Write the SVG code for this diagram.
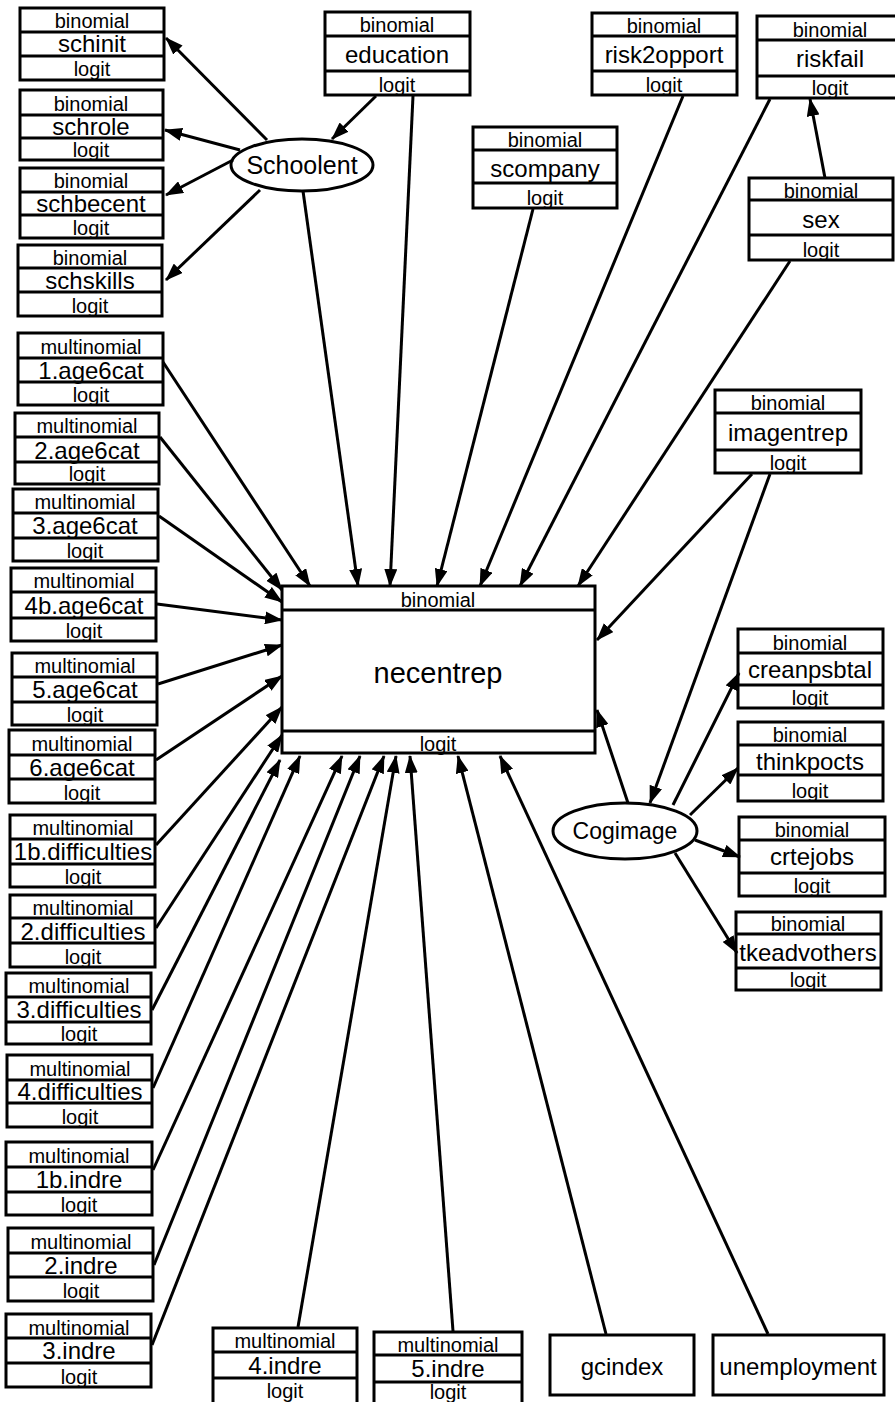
<svg xmlns="http://www.w3.org/2000/svg" width="895" height="1402" viewBox="0 0 895 1402">
<style>
rect,ellipse{fill:#fff;stroke:#000;stroke-width:3}
line.d{stroke:#000;stroke-width:3}
text{font-family:"Liberation Sans",Arial,sans-serif;fill:#000;text-anchor:middle}
.l{font-size:20px}
.n{font-size:24px}
.c{font-size:23px}
#edges line{stroke:#000;stroke-width:3;marker-end:url(#ah)}
</style>
<defs>
<marker id="ah" viewBox="0 0 18 13" refX="17" refY="6.5" markerWidth="18" markerHeight="13" markerUnits="userSpaceOnUse" orient="auto">
<path d="M0,0 L18,6.5 L0,13 z" fill="#000"/>
</marker>
</defs>
<rect x="0" y="0" width="895" height="1402" style="stroke:none"/>

<g id="n-schinit"><rect x="20" y="8" width="144" height="72"/><line class="d" x1="20" y1="32" x2="164" y2="32"/><line class="d" x1="20" y1="56" x2="164" y2="56"/><text class="l" x="92" y="28">binomial</text><text class="n" x="92" y="52">schinit</text><text class="l" x="92" y="76">logit</text></g>
<g id="n-schrole"><rect x="20" y="90" width="143" height="70"/><line class="d" x1="20" y1="115" x2="163" y2="115"/><line class="d" x1="20" y1="138" x2="163" y2="138"/><text class="l" x="91" y="111">binomial</text><text class="n" x="91" y="135">schrole</text><text class="l" x="91" y="157">logit</text></g>
<g id="n-schbecent"><rect x="20" y="168" width="143" height="70"/><line class="d" x1="20" y1="192" x2="163" y2="192"/><line class="d" x1="20" y1="215" x2="163" y2="215"/><text class="l" x="91" y="188">binomial</text><text class="n" x="91" y="212">schbecent</text><text class="l" x="91" y="235">logit</text></g>
<g id="n-schskills"><rect x="18" y="245" width="144" height="71"/><line class="d" x1="18" y1="268" x2="162" y2="268"/><line class="d" x1="18" y1="292" x2="162" y2="292"/><text class="l" x="90" y="265">binomial</text><text class="n" x="90" y="289">schskills</text><text class="l" x="90" y="313">logit</text></g>

<g id="n-schoolent"><ellipse cx="302" cy="165" rx="71" ry="26"/><text class="n" x="302" y="174" style="font-size:25px">Schoolent</text></g>

<g id="n-education"><rect x="325" y="12" width="145" height="83"/><line class="d" x1="325" y1="36" x2="470" y2="36"/><line class="d" x1="325" y1="71" x2="470" y2="71"/><text class="l" x="397" y="32">binomial</text><text class="n" x="397" y="63">education</text><text class="l" x="397" y="92">logit</text></g>
<g id="n-scompany"><rect x="473" y="127" width="144" height="81"/><line class="d" x1="473" y1="150" x2="617" y2="150"/><line class="d" x1="473" y1="183" x2="617" y2="183"/><text class="l" x="545" y="147">binomial</text><text class="n" x="545" y="177">scompany</text><text class="l" x="545" y="205">logit</text></g>
<g id="n-risk2opport"><rect x="592" y="13" width="145" height="82"/><line class="d" x1="592" y1="36" x2="737" y2="36"/><line class="d" x1="592" y1="71" x2="737" y2="71"/><text class="l" x="664" y="33">binomial</text><text class="n" x="664" y="63">risk2opport</text><text class="l" x="664" y="92">logit</text></g>
<g id="n-riskfail"><rect x="757" y="16" width="143" height="82"/><line class="d" x1="757" y1="40" x2="900" y2="40"/><line class="d" x1="757" y1="76" x2="900" y2="76"/><text class="l" x="830" y="37">binomial</text><text class="n" x="830" y="67">riskfail</text><text class="l" x="830" y="95">logit</text></g>
<g id="n-sex"><rect x="749" y="178" width="144" height="82"/><line class="d" x1="749" y1="200" x2="893" y2="200"/><line class="d" x1="749" y1="235" x2="893" y2="235"/><text class="l" x="821" y="198">binomial</text><text class="n" x="821" y="228">sex</text><text class="l" x="821" y="257">logit</text></g>
<g id="n-imagentrep"><rect x="715" y="390" width="146" height="83"/><line class="d" x1="715" y1="413" x2="861" y2="413"/><line class="d" x1="715" y1="450" x2="861" y2="450"/><text class="l" x="788" y="410">binomial</text><text class="n" x="788" y="441">imagentrep</text><text class="l" x="788" y="470">logit</text></g>

<g id="n-necentrep"><rect x="282" y="586" width="313" height="167"/><line class="d" x1="282" y1="610" x2="595" y2="610"/><line class="d" x1="282" y1="731" x2="595" y2="731"/><text class="l" x="438" y="607">binomial</text><text class="c" x="438" y="683" style="font-size:29px">necentrep</text><text class="l" x="438" y="751">logit</text></g>

<g id="n-creanpsbtal"><rect x="738" y="629" width="145" height="79"/><line class="d" x1="738" y1="653" x2="883" y2="653"/><line class="d" x1="738" y1="685" x2="883" y2="685"/><text class="l" x="810" y="650">binomial</text><text class="n" x="810" y="678">creanpsbtal</text><text class="l" x="810" y="705">logit</text></g>
<g id="n-thinkpocts"><rect x="738" y="722" width="145" height="79"/><line class="d" x1="738" y1="745" x2="883" y2="745"/><line class="d" x1="738" y1="775" x2="883" y2="775"/><text class="l" x="810" y="742">binomial</text><text class="n" x="810" y="770">thinkpocts</text><text class="l" x="810" y="798">logit</text></g>
<g id="n-crtejobs"><rect x="739" y="817" width="146" height="79"/><line class="d" x1="739" y1="840" x2="885" y2="840"/><line class="d" x1="739" y1="873" x2="885" y2="873"/><text class="l" x="812" y="837">binomial</text><text class="n" x="812" y="865">crtejobs</text><text class="l" x="812" y="893">logit</text></g>
<g id="n-tkeadvothers"><rect x="736" y="912" width="145" height="78"/><line class="d" x1="736" y1="934" x2="881" y2="934"/><line class="d" x1="736" y1="968" x2="881" y2="968"/><text class="l" x="808" y="931">binomial</text><text class="n" x="808" y="961">tkeadvothers</text><text class="l" x="808" y="987">logit</text></g>

<g id="n-cogimage"><ellipse cx="625" cy="831" rx="72" ry="28"/><text class="c" x="625" y="839">Cogimage</text></g>

<g id="n-1age6cat"><rect x="18" y="333" width="145" height="72"/><line class="d" x1="18" y1="358" x2="163" y2="358"/><line class="d" x1="18" y1="382" x2="163" y2="382"/><text class="l" x="91" y="354">multinomial</text><text class="n" x="91" y="379">1.age6cat</text><text class="l" x="91" y="402">logit</text></g>
<g id="n-2age6cat"><rect x="15" y="413" width="144" height="71"/><line class="d" x1="15" y1="437" x2="159" y2="437"/><line class="d" x1="15" y1="462" x2="159" y2="462"/><text class="l" x="87" y="433">multinomial</text><text class="n" x="87" y="459">2.age6cat</text><text class="l" x="87" y="481">logit</text></g>
<g id="n-3age6cat"><rect x="13" y="489" width="145" height="72"/><line class="d" x1="13" y1="513" x2="158" y2="513"/><line class="d" x1="13" y1="538" x2="158" y2="538"/><text class="l" x="85" y="509">multinomial</text><text class="n" x="85" y="534">3.age6cat</text><text class="l" x="85" y="558">logit</text></g>
<g id="n-4bage6cat"><rect x="11" y="568" width="145" height="73"/><line class="d" x1="11" y1="592" x2="156" y2="592"/><line class="d" x1="11" y1="618" x2="156" y2="618"/><text class="l" x="84" y="588">multinomial</text><text class="n" x="84" y="614">4b.age6cat</text><text class="l" x="84" y="638">logit</text></g>
<g id="n-5age6cat"><rect x="12" y="653" width="145" height="72"/><line class="d" x1="12" y1="677" x2="157" y2="677"/><line class="d" x1="12" y1="702" x2="157" y2="702"/><text class="l" x="85" y="673">multinomial</text><text class="n" x="85" y="698">5.age6cat</text><text class="l" x="85" y="722">logit</text></g>
<g id="n-6age6cat"><rect x="9" y="730" width="146" height="73"/><line class="d" x1="9" y1="755" x2="155" y2="755"/><line class="d" x1="9" y1="779" x2="155" y2="779"/><text class="l" x="82" y="751">multinomial</text><text class="n" x="82" y="776">6.age6cat</text><text class="l" x="82" y="800">logit</text></g>
<g id="n-1bdifficulties"><rect x="10" y="815" width="145" height="72"/><line class="d" x1="10" y1="839" x2="155" y2="839"/><line class="d" x1="10" y1="864" x2="155" y2="864"/><text class="l" x="83" y="835">multinomial</text><text class="n" x="83" y="860">1b.difficulties</text><text class="l" x="83" y="884">logit</text></g>
<g id="n-2difficulties"><rect x="10" y="895" width="145" height="72"/><line class="d" x1="10" y1="918" x2="155" y2="918"/><line class="d" x1="10" y1="943" x2="155" y2="943"/><text class="l" x="83" y="915">multinomial</text><text class="n" x="83" y="940">2.difficulties</text><text class="l" x="83" y="964">logit</text></g>
<g id="n-3difficulties"><rect x="6" y="973" width="145" height="71"/><line class="d" x1="6" y1="997" x2="151" y2="997"/><line class="d" x1="6" y1="1022" x2="151" y2="1022"/><text class="l" x="79" y="993">multinomial</text><text class="n" x="79" y="1018">3.difficulties</text><text class="l" x="79" y="1041">logit</text></g>
<g id="n-4difficulties"><rect x="7" y="1055" width="145" height="72"/><line class="d" x1="7" y1="1080" x2="152" y2="1080"/><line class="d" x1="7" y1="1103" x2="152" y2="1103"/><text class="l" x="80" y="1076">multinomial</text><text class="n" x="80" y="1100">4.difficulties</text><text class="l" x="80" y="1124">logit</text></g>
<g id="n-1bindre"><rect x="6" y="1142" width="146" height="73"/><line class="d" x1="6" y1="1167" x2="152" y2="1167"/><line class="d" x1="6" y1="1192" x2="152" y2="1192"/><text class="l" x="79" y="1163">multinomial</text><text class="n" x="79" y="1188">1b.indre</text><text class="l" x="79" y="1212">logit</text></g>
<g id="n-2indre"><rect x="8" y="1228" width="145" height="73"/><line class="d" x1="8" y1="1253" x2="153" y2="1253"/><line class="d" x1="8" y1="1277" x2="153" y2="1277"/><text class="l" x="81" y="1249">multinomial</text><text class="n" x="81" y="1274">2.indre</text><text class="l" x="81" y="1298">logit</text></g>
<g id="n-3indre"><rect x="6" y="1314" width="145" height="73"/><line class="d" x1="6" y1="1338" x2="151" y2="1338"/><line class="d" x1="6" y1="1363" x2="151" y2="1363"/><text class="l" x="79" y="1335">multinomial</text><text class="n" x="79" y="1359">3.indre</text><text class="l" x="79" y="1384">logit</text></g>
<g id="n-4indre"><rect x="213" y="1328" width="144" height="84"/><line class="d" x1="213" y1="1352" x2="357" y2="1352"/><line class="d" x1="213" y1="1378" x2="357" y2="1378"/><text class="l" x="285" y="1348">multinomial</text><text class="n" x="285" y="1374">4.indre</text><text class="l" x="285" y="1398">logit</text></g>
<g id="n-5indre"><rect x="374" y="1332" width="148" height="80"/><line class="d" x1="374" y1="1355" x2="522" y2="1355"/><line class="d" x1="374" y1="1382" x2="522" y2="1382"/><text class="l" x="448" y="1352">multinomial</text><text class="n" x="448" y="1377">5.indre</text><text class="l" x="448" y="1399">logit</text></g>
<g id="n-gcindex"><rect x="550" y="1335" width="144" height="60"/><text class="n" x="622" y="1375">gcindex</text></g>
<g id="n-unemployment"><rect x="713" y="1335" width="171" height="60"/><text class="n" x="798" y="1375">unemployment</text></g>

<g id="edges">
<line x1="267" y1="140" x2="166" y2="38"/>
<line x1="240" y1="150" x2="165" y2="130"/>
<line x1="233" y1="160" x2="166" y2="195"/>
<line x1="260" y1="190" x2="166" y2="280"/>
<line x1="376" y1="96" x2="332" y2="139"/>
<line x1="303" y1="191" x2="358" y2="586"/>
<line x1="413" y1="96" x2="390" y2="586"/>
<line x1="533" y1="209" x2="437" y2="586"/>
<line x1="683" y1="96" x2="480" y2="586"/>
<line x1="770" y1="99" x2="520" y2="586"/>
<line x1="790" y1="261" x2="578" y2="586"/>
<line x1="825" y1="178" x2="810" y2="99"/>
<line x1="752" y1="474" x2="597" y2="640"/>
<line x1="770" y1="474" x2="650" y2="803"/>
<line x1="628" y1="803" x2="597" y2="710"/>
<line x1="673" y1="805" x2="739" y2="673"/>
<line x1="690" y1="815" x2="738" y2="768"/>
<line x1="695" y1="840" x2="740" y2="857"/>
<line x1="675" y1="853" x2="737" y2="953"/>
<line x1="163" y1="362" x2="310" y2="586"/>
<line x1="160" y1="437" x2="282" y2="590"/>
<line x1="159" y1="516" x2="282" y2="602"/>
<line x1="157" y1="604" x2="282" y2="620"/>
<line x1="158" y1="684" x2="282" y2="645"/>
<line x1="156" y1="760" x2="282" y2="676"/>
<line x1="156" y1="845" x2="282" y2="707"/>
<line x1="156" y1="928" x2="282" y2="735"/>
<line x1="152" y1="1010" x2="280" y2="760"/>
<line x1="153" y1="1088" x2="300" y2="756"/>
<line x1="153" y1="1170" x2="342" y2="756"/>
<line x1="154" y1="1265" x2="360" y2="756"/>
<line x1="152" y1="1345" x2="384" y2="756"/>
<line x1="298" y1="1327" x2="396" y2="756"/>
<line x1="453" y1="1331" x2="410" y2="756"/>
<line x1="606" y1="1334" x2="458" y2="756"/>
<line x1="768" y1="1334" x2="500" y2="756"/>
</g>
</svg>
